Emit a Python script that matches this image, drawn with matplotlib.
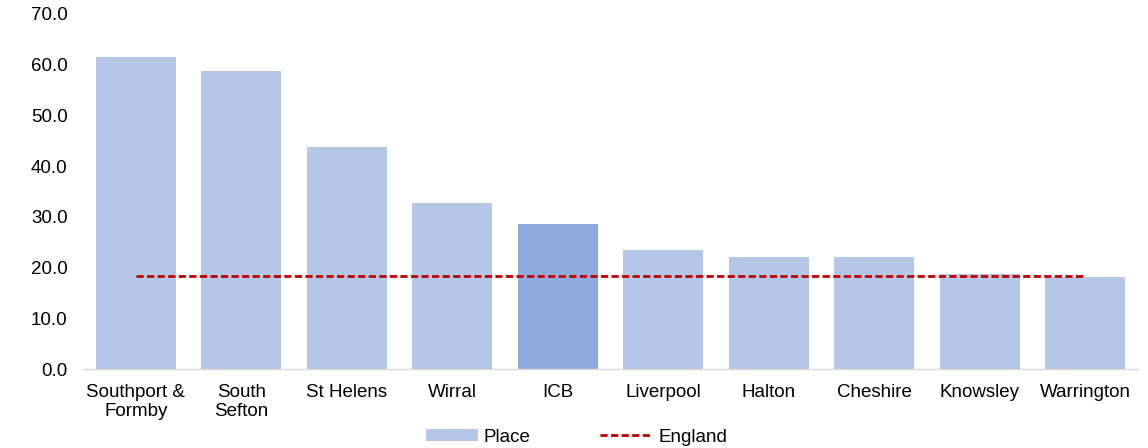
import matplotlib
matplotlib.use("Agg")
import matplotlib.pyplot as plt
from matplotlib.patches import Patch
from matplotlib.lines import Line2D

categories = ["Southport &\nFormby", "South\nSefton", "St Helens", "Wirral", "ICB",
              "Liverpool", "Halton", "Cheshire", "Knowsley", "Warrington"]
place_values = [61.6, 58.8, 43.8, 32.7, 28.6, 23.5, 22.1, 22.1, 18.8, 18.2]
england_value = 18.3
yticks = [0, 10, 20, 30, 40, 50, 60, 70]

plt.rcParams["font.family"] = ["Liberation Sans", "DejaVu Sans"]

place_color = "#B4C7E7"
icb_color = "#8FAADC"
england_color = "#C00000"
fs = 13.5
dash = (0, (2.6, 1.2))

fig = plt.figure(figsize=(11.48, 4.48), dpi=100)
ax = fig.add_axes([83 / 1148, 1 - 369 / 448, (1138 - 83) / 1148, (369 - 14) / 448])

x = list(range(len(categories)))
colors = [icb_color if c == "ICB" else place_color for c in categories]
ax.bar(x, place_values, width=0.76, color=colors, zorder=2)
ax.plot(x, [england_value] * len(x), color=england_color, linestyle=dash,
        linewidth=2, zorder=3)

ax.set_xlim(-0.5, len(categories) - 0.5)
ax.set_ylim(0, 70)
ax.set_yticks(yticks)
ax.set_yticklabels([f"{v:.1f}" for v in yticks], fontsize=fs)
ax.set_xticks(x)
ax.set_xticklabels(categories, fontsize=fs, linespacing=1.2)
ax.tick_params(axis="both", length=0, colors="#000000")
ax.tick_params(axis="x", pad=10.5)
ax.tick_params(axis="y", pad=11)

for side in ["top", "right", "left"]:
    ax.spines[side].set_visible(False)
ax.spines["bottom"].set_color("#D9D9D9")
ax.spines["bottom"].set_linewidth(1)

handles = [Patch(facecolor=place_color, edgecolor="none", label="Place"),
           Line2D([0], [0], color=england_color, linestyle=dash, linewidth=2,
                  label="England")]
fig.legend(handles=handles, loc="center", bbox_to_anchor=(0.502, 1 - 437 / 448), ncol=2,
           frameon=False, fontsize=fs, handlelength=2.8, handleheight=0.55,
           columnspacing=3.7, handletextpad=0.3, borderpad=0)

fig.savefig("out.png", dpi=100)
